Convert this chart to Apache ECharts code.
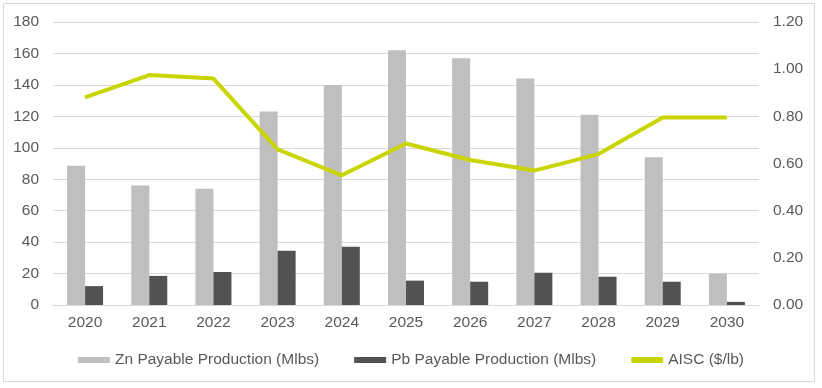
<!DOCTYPE html>
<html>
<head>
<meta charset="utf-8">
<script src="https://cdn.jsdelivr.net/npm/echarts@6/dist/echarts.min.js"></script>
<style>
html,body{margin:0;padding:0;background:#fff;}
#chart{width:822px;height:388px;}
</style>
</head>
<body>
<div id="chart"></div>
<script>
const categories = ['2020','2021','2022','2023','2024','2025','2026','2027','2028','2029','2030'];
const znProduction = [88.5, 76, 74, 123, 140, 162, 157, 144, 121, 94, 20];
const pbProduction = [12, 18.5, 21, 34.5, 37, 15.5, 14.8, 20.5, 18, 14.8, 2];
const aisc = [0.88, 0.975, 0.96, 0.66, 0.55, 0.685, 0.615, 0.57, 0.64, 0.795, 0.795];
const leftTicks = {min: 0, max: 180, interval: 20};
const rightTicks = {min: 0, max: 1.2, interval: 0.2};

const FONT = '"Liberation Sans", Arial, sans-serif';
const TXT = '#595959';
const GRID = '#d9d9d9';
const FS = 15.5;

const chart = echarts.init(document.getElementById('chart'), null, {renderer: 'canvas'});
chart.setOption({
  animation: false,
  textStyle: {fontFamily: FONT, color: TXT},
  graphic: [{
    type: 'rect',
    shape: {x: 3.5, y: 3.5, width: 811, height: 378},
    style: {fill: 'none', stroke: GRID, lineWidth: 1},
    silent: true
  }],
  grid: {left: 53, right: 63, top: 22, bottom: 83, containLabel: false},
  legend: {
    bottom: 15,
    left: 'center',
    itemWidth: 32,
    itemHeight: 6,
    itemGap: 35,
    textStyle: {fontFamily: FONT, fontSize: FS, color: TXT},
    data: [
      {name: 'Zn Payable Production (Mlbs)', icon: 'rect'},
      {name: 'Pb Payable Production (Mlbs)', icon: 'rect'},
      {name: 'AISC ($/lb)', icon: 'roundRect'}
    ]
  },
  xAxis: {
    type: 'category',
    data: categories,
    axisLine: {lineStyle: {color: GRID, width: 1}},
    axisTick: {show: false},
    axisLabel: {fontFamily: FONT, fontSize: FS, color: TXT, margin: 10}
  },
  yAxis: [{
    type: 'value',
    min: leftTicks.min, max: leftTicks.max, interval: leftTicks.interval,
    axisLine: {show: false}, axisTick: {show: false},
    splitLine: {lineStyle: {color: GRID, width: 1}},
    axisLabel: {fontFamily: FONT, fontSize: FS, color: TXT, margin: 14}
  }, {
    type: 'value',
    min: rightTicks.min, max: rightTicks.max, interval: rightTicks.interval,
    axisLine: {show: false}, axisTick: {show: false},
    splitLine: {show: false},
    axisLabel: {fontFamily: FONT, fontSize: FS, color: TXT, margin: 14,
      formatter: v => v.toFixed(2)}
  }],
  series: [{
    name: 'Zn Payable Production (Mlbs)',
    type: 'bar',
    data: znProduction,
    barWidth: 18,
    barGap: '0%',
    itemStyle: {color: '#bfbfbf'}
  }, {
    name: 'Pb Payable Production (Mlbs)',
    type: 'bar',
    data: pbProduction,
    barWidth: 18,
    barGap: '0%',
    itemStyle: {color: '#525252'}
  }, {
    name: 'AISC ($/lb)',
    type: 'line',
    yAxisIndex: 1,
    data: aisc,
    symbol: 'none',
    lineStyle: {color: '#c9d500', width: 4},
    itemStyle: {color: '#c9d500'},
    z: 5
  }]
});
</script>
</body>
</html>
